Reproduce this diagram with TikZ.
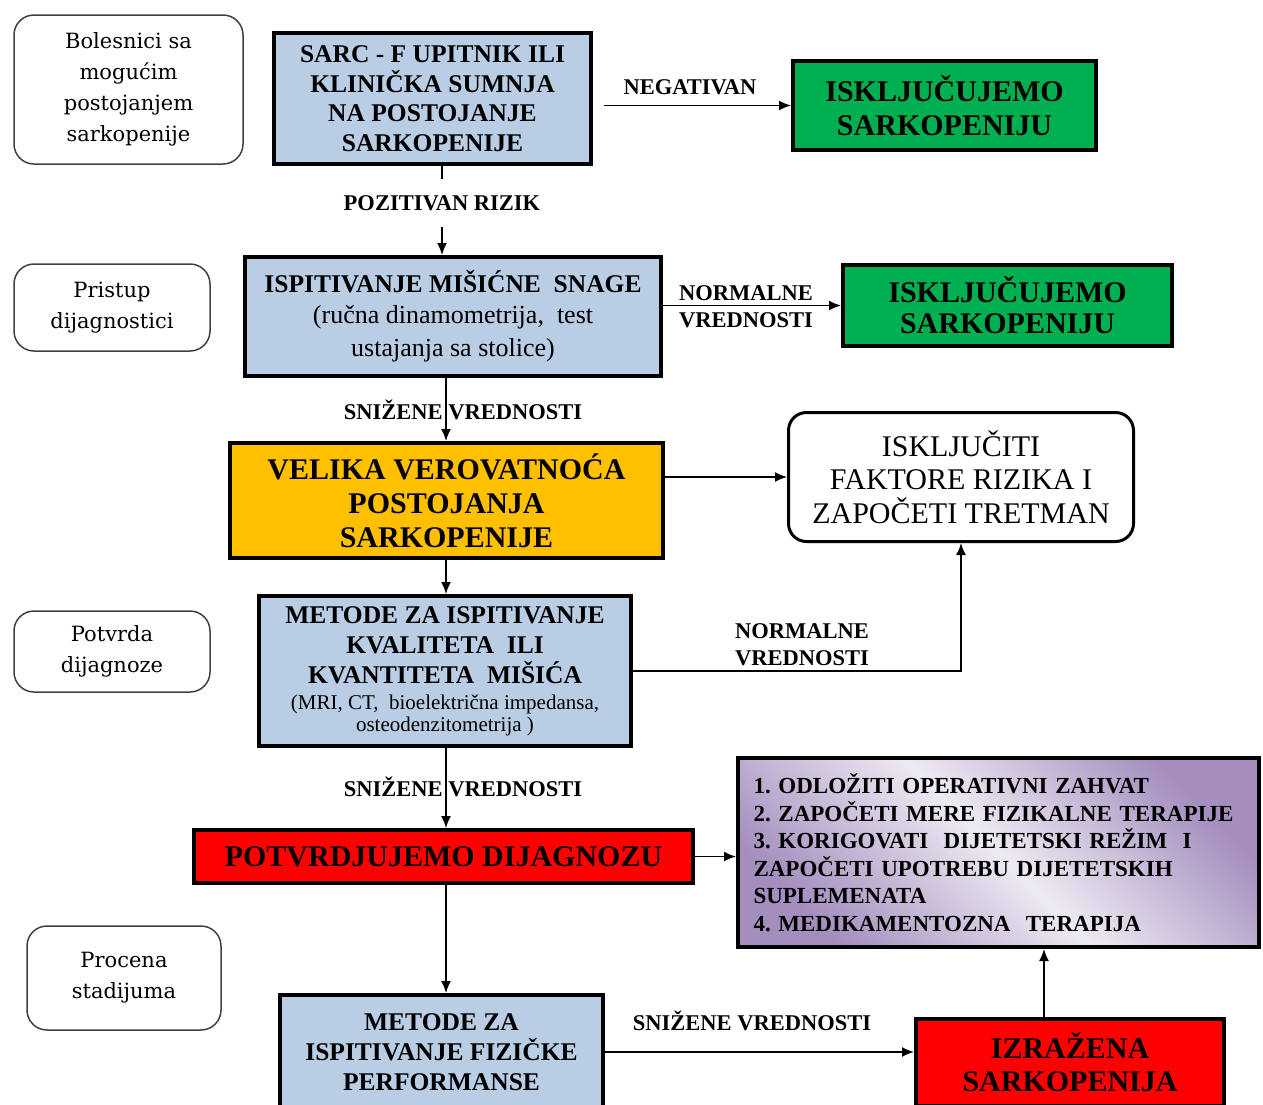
\documentclass[tikz,border=0pt]{standalone}
\usepackage{fontspec}
\setmainfont{Liberation Serif}
\newfontfamily\sidefont{DejaVu Serif}
\usetikzlibrary{arrows.meta}
\definecolor{lblue}{HTML}{B9CDE5}
\definecolor{sgreen}{HTML}{00B050}
\definecolor{sorange}{HTML}{FFC000}
\definecolor{sred}{HTML}{FF0000}
\definecolor{pdark}{HTML}{A48EBE}
\definecolor{plight}{HTML}{EEEAF3}
\newcommand{\fsz}[2]{\fontsize{#1}{#2}\selectfont}
\frenchspacing
\begin{document}
\begin{tikzpicture}[x=1pt,y=-1pt,
  box/.style={draw=black, line width=4pt, align=center, inner sep=0pt},
  bluebox/.style={box, fill=lblue},
  lbl/.style={font=\bfseries\fsz{22.5}{27}, align=center, inner sep=0pt},
  side/.style={draw=black!75, line width=1.5pt, rounded corners=20pt, font=\sidefont\fsz{21}{31}, align=center, inner sep=0pt},
  conn/.style={line width=1.6pt},
  arr/.style={conn, -{Latex[length=12pt,width=10pt]}}]
\useasboundingbox (0,0) rectangle (1263,1104);
\clip (0,0) rectangle (1263,1104);
% side boxes
\node[side, minimum width=229pt, minimum height=149pt] (L1) at (128.5,89.5) {Bolesnici sa\\mogućim\\postojanjem\\sarkopenije};
\node[side, minimum width=196pt, minimum height=87pt] (L2) at (112,307.5) {Pristup\\dijagnostici};
\node[side, minimum width=196pt, minimum height=81pt] (L3) at (112,651.5) {Potvrda\\dijagnoze};
\node[side, minimum width=194pt, minimum height=104pt] (L4) at (124,978) {Procena\\stadijuma};
% main boxes
\node[bluebox, minimum width=317pt, minimum height=131pt, font=\bfseries\fsz{25.5}{29.5}] (A) at (432.5,98.5) {SARC - F UPITNIK ILI\\KLINIČKA SUMNJA\\NA POSTOJANJE\\SARKOPENIJE};
\node[box, fill=sgreen, minimum width=303pt, minimum height=89pt, font=\bfseries\fsz{30}{34}] (B) at (944.5,105.5) {ISKLJUČUJEMO\\SARKOPENIJU};
\node[bluebox, minimum width=416pt, minimum height=119pt, font=\fsz{26}{31}] (C) at (453,316.5) {{\bfseries\fsz{25.5}{31}ISPITIVANJE MIŠIĆNE\ \ SNAGE}\\(ručna dinamometrija,\ \ test\\[2pt]ustajanja sa stolice)};
\node[box, fill=sgreen, minimum width=329pt, minimum height=81pt, font=\bfseries\fsz{30}{31}] (D) at (1007.5,305.5) {ISKLJUČUJEMO\\SARKOPENIJU};
\node[box, fill=sorange, minimum width=433pt, minimum height=115pt, font=\bfseries\fsz{30}{34}] (E) at (446.5,500.5) {VELIKA VEROVATNOĆA\\POSTOJANJA\\SARKOPENIJE};
\node[box, fill=white, line width=3pt, rounded corners=18pt, minimum width=345pt, minimum height=129pt, font=\fsz{30}{33.5}] (F) at (961,477) {ISKLJUČITI\\FAKTORE RIZIKA I\\ZAPOČETI TRETMAN};
\node[bluebox, minimum width=372pt, minimum height=150pt, font=\bfseries\fsz{25.5}{30}] (G) at (445,671) {METODE ZA ISPITIVANJE\\KVALITETA\ \ ILI\\KVANTITETA\ \ MIŠIĆA\\[-4pt]{\mdseries\fsz{21}{23}(MRI, CT,\ \ bioelektrična impedansa,}\\[-8pt]{\mdseries\fsz{21}{23}osteodenzitometrija )}};
\node[box, fill=sred, minimum width=499pt, minimum height=53pt, font=\bfseries\fsz{30}{34}] (H) at (443.5,856.5) {POTVRDJUJEMO DIJAGNOZU};
\node[box, top color=pdark, bottom color=pdark, middle color=plight, shading angle=-45, minimum width=521pt, minimum height=189pt, text width=490pt, inner xsep=15pt, align=left, font=\bfseries\fsz{23}{27.5}] (I) at (998.5,852.5) {1. ODLOŽITI OPERATIVNI ZAHVAT\\2. ZAPOČETI MERE FIZIKALNE TERAPIJE\\3. KORIGOVATI\ \ DIJETETSKI REŽIM\ \ I\\ZAPOČETI UPOTREBU DIJETETSKIH\\SUPLEMENATA\\4. MEDIKAMENTOZNA\ \ TERAPIJA};
\node[bluebox, minimum width=323pt, minimum height=114pt, font=\bfseries\fsz{25.5}{30}] (J) at (441.5,1052) {METODE ZA\\ISPITIVANJE FIZIČKE\\PERFORMANSE};
\node[box, fill=sred, minimum width=308pt, minimum height=87pt, font=\bfseries\fsz{30}{33}] (K) at (1070,1062.5) {IZRAŽENA\\SARKOPENIJA};
% labels
\node[lbl] (lNeg) at (690,87) {NEGATIVAN};
\node[lbl, inner ysep=16pt] (lPoz) at (442,203) {POZITIVAN RIZIK};
\node[lbl] (lNor1) at (746,307) {NORMALNE\\VREDNOSTI};
\node[lbl] (lSn1) at (463,410) {SNIŽENE VREDNOSTI};
\node[lbl] (lNor2) at (802,645) {NORMALNE\\VREDNOSTI};
\node[lbl] (lSn2) at (463,787) {SNIŽENE VREDNOSTI};
\node[lbl] (lSn3) at (752,1021) {SNIŽENE VREDNOSTI};
% connectors
\coordinate (sp) at (446,0);
\coordinate (a1) at ([xshift=11pt]A.east);
\draw[arr] (a1 |- B.west) -- (B.west);
\draw[conn] (lPoz.north |- A.south) -- (lPoz.north);
\draw[arr] (lPoz.south) -- (lPoz.south |- C.north);
\draw[arr] (C.east |- D.west) -- (D.west);
\draw[arr] (sp |- C.south) -- (sp |- E.north);
\draw[arr] (E.east |- F.west) -- (F.west);
\draw[arr] (sp |- E.south) -- (sp |- G.north);
\draw[arr] (G.east) -| (F.south);
\draw[arr] (sp |- G.south) -- (sp |- H.north);
\draw[arr] (H.east) -- (H.east -| I.west);
\draw[arr] (sp |- H.south) -- (sp |- J.north);
\draw[arr] (J.east) -- (J.east -| K.west);
\coordinate (k1) at ([xshift=-26pt]K.north);
\draw[arr] (k1) -- (k1 |- I.south);
\end{tikzpicture}
\end{document}
